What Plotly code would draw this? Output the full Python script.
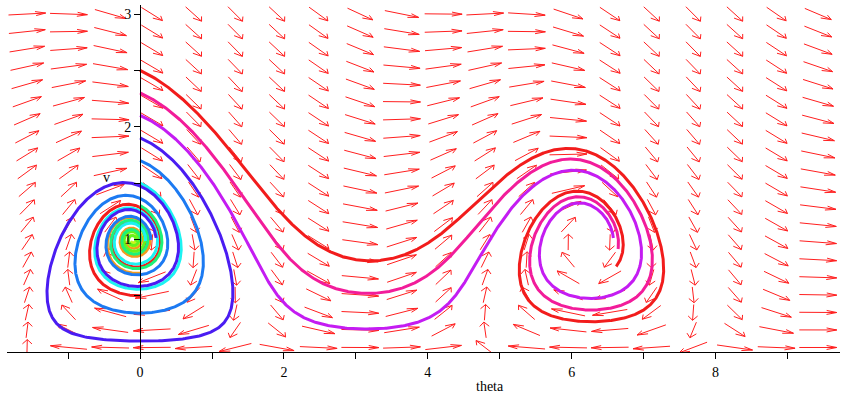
import numpy as np
import plotly.graph_objects as go

# ---------------- data ----------------
# glider (phugoid) model: theta' = (v^2 - cos theta)/v, v' = -sin theta - D v^2
drag_D = 0.1
init_theta = [0.0] * 11
init_v = [0.5, 0.7, 0.9, 1.1, 1.3, 1.5, 1.7, 1.9, 2.1, 2.3, 2.5]
line_colors = ["#f21c1c", "#f29a1c", "#ccf21c", "#66f21c", "#1cf27a", "#1cf2f2",
               "#1c7af2", "#4a1cf2", "#c41cf2", "#f21c9a", "#f21c1c"]
t_end = 10.0
grid_theta_range = [-np.pi / 2, 3 * np.pi]
grid_v_range = [0.04, 3.0]
grid_n = [20, 20]
x_tick_vals = [-1, 0, 1, 2, 3, 4, 5, 6, 7, 8, 9]
x_tick_text = ["", "0", "", "2", "", "4", "", "6", "", "8", ""]
y_tick_vals = [0.5, 1, 1.5, 2, 2.5, 3]
y_tick_text = ["", "1", "", "2", "", "3"]
x_range = [-1.85, 9.73]
y_range = [0.0, 3.08]


def rhs(th, v):
    return (v * v - np.cos(th)) / v, -np.sin(th) - drag_D * v * v


def integrate(th, v, T, dt=0.005):
    n = int(round(T / dt))
    ths = [th]; vs = [v]
    for _ in range(n):
        k1 = rhs(th, v)
        k2 = rhs(th + dt / 2 * k1[0], v + dt / 2 * k1[1])
        k3 = rhs(th + dt / 2 * k2[0], v + dt / 2 * k2[1])
        k4 = rhs(th + dt * k3[0], v + dt * k3[1])
        th = th + dt / 6 * (k1[0] + 2 * k2[0] + 2 * k3[0] + k4[0])
        v = v + dt / 6 * (k1[1] + 2 * k2[1] + 2 * k3[1] + k4[1])
        ths.append(th); vs.append(v)
    return np.array(ths), np.array(vs)


fig = go.Figure()

# direction field (arrows normalised in grid-cell units, centred on grid points)
gth = np.linspace(*grid_theta_range, grid_n[0])
gv = np.linspace(*grid_v_range, grid_n[1])
hx = gth[1] - gth[0]
hy = gv[1] - gv[0]
L = 0.9
hf = 0.3
phi = np.radians(25)
ax, ay = [], []
for th in gth:
    for v in gv:
        f, g = rhs(th, v)
        a, b = f / hx, g / hy
        n = np.hypot(a, b)
        a, b = a / n * L, b / n * L
        t0 = (th - a * hx / 2, v - b * hy / 2)
        t1 = (th + a * hx / 2, v + b * hy / 2)
        ax += [t0[0], t1[0], None]
        ay += [t0[1], t1[1], None]
        for s in (1, -1):
            c, sn = np.cos(s * phi), np.sin(s * phi)
            ba = -(a * c - b * sn) * hf
            bb = -(a * sn + b * c) * hf
            ax += [t1[0], t1[0] + ba * hx, None]
            ay += [t1[1], t1[1] + bb * hy, None]
fig.add_trace(go.Scatter(x=ax, y=ay, mode="lines", line=dict(color="#ff1f1f", width=1),
                         hoverinfo="skip", showlegend=False))

for th0, v0, col in zip(init_theta, init_v, line_colors):
    ths, vs = integrate(th0, v0, t_end)
    fig.add_trace(go.Scatter(x=ths, y=vs, mode="lines", line=dict(color=col, width=3),
                             hoverinfo="skip", showlegend=False))

font = dict(family="Liberation Serif", size=14, color="black")
fig.update_layout(
    width=846, height=398,
    margin=dict(l=7, r=6, t=5, b=46),
    plot_bgcolor="white", paper_bgcolor="white",
    xaxis=dict(range=x_range, showline=True, linecolor="black", linewidth=1, automargin=False,
               ticks="outside", ticklen=6, tickcolor="black", tickvals=x_tick_vals,
               ticktext=x_tick_text, showgrid=False, zeroline=False, tickfont=font,
               ticklabelstandoff=1),
    yaxis=dict(range=y_range, anchor="free", position=(0 - x_range[0]) / (x_range[1] - x_range[0]),
               showline=True, linecolor="black", linewidth=1, ticks="outside", ticklen=6,
               automargin=False, tickcolor="black", tickvals=y_tick_vals, ticktext=y_tick_text,
               showgrid=False, zeroline=False, tickfont=font),
    annotations=[
        dict(text="theta", x=4.87, y=-0.098, xref="x", yref="paper", showarrow=False,
             font=font, yanchor="middle"),
        dict(text="v", x=-0.46, y=1.55, xref="x", yref="y", showarrow=False, font=font),
    ],
)
fig.write_html("out.html", config={"displayModeBar": False},
               post_script="document.body.style.margin='0';")
